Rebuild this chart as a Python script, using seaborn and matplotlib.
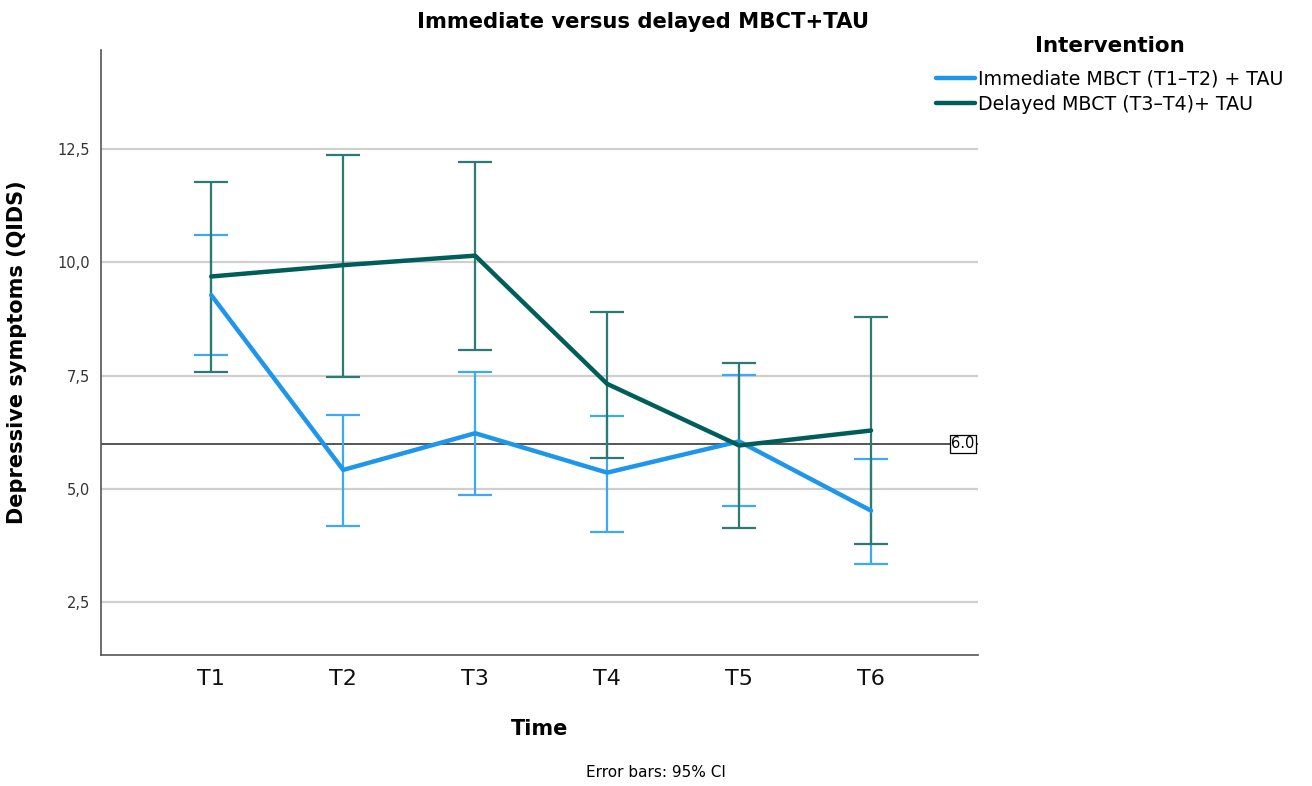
import numpy as np
import pandas as pd
import matplotlib
matplotlib.use("Agg")
import matplotlib.pyplot as plt
import seaborn as sns

# Measurement occasions
times = ["T1", "T2", "T3", "T4", "T5", "T6"]
groups = ["Immediate MBCT (T1\u2013T2) + TAU", "Delayed MBCT (T3\u2013T4)+ TAU"]

# Mean QIDS scores with 95% CI bounds per group
immediate_mean = [9.28, 5.42, 6.23, 5.36, 6.05, 4.52]
immediate_low = [7.96, 4.18, 4.87, 4.06, 4.63, 3.34]
immediate_high = [10.61, 6.63, 7.58, 6.61, 7.52, 5.66]

delayed_mean = [9.69, 9.94, 10.15, 7.32, 5.96, 6.29]
delayed_low = [7.59, 7.47, 8.06, 5.69, 4.13, 3.79]
delayed_high = [11.78, 12.38, 12.21, 8.91, 7.77, 8.80]

cutoff = 6.0

line_colors = ["#1E96EA", "#005E5A"]
bar_colors = ["#3DA8F4", "#2C7A76"]

rows = []
for g, m, lo, hi in [(groups[0], immediate_mean, immediate_low, immediate_high),
                     (groups[1], delayed_mean, delayed_low, delayed_high)]:
    for i, t in enumerate(times):
        rows.append({"pos": i, "Time": t, "Intervention": g,
                     "mean": m[i], "low": lo[i], "high": hi[i]})
df = pd.DataFrame(rows)

sns.set_theme(style="white")
plt.rcParams["font.family"] = ["DejaVu Sans"]
plt.rcParams["text.color"] = "black"
plt.rcParams["axes.labelcolor"] = "black"

fig = plt.figure(figsize=(13.12, 7.86), dpi=100)
ax = fig.add_axes([0.077, 0.1667, 0.6684, 0.7697])

# horizontal grid lines
for yv in [2.5, 5.0, 7.5, 10.0, 12.5]:
    ax.axhline(yv, color="#CFCFCF", lw=1.6, zorder=0)

# cut-off reference line
ax.axhline(cutoff, color="#555555", lw=1.4, zorder=1)

# confidence-interval bars
for g, bc in zip(groups, bar_colors):
    sub = df[df["Intervention"] == g]
    ax.errorbar(sub["pos"], sub["mean"],
                yerr=[sub["mean"] - sub["low"], sub["high"] - sub["mean"]],
                fmt="none", ecolor=bc, elinewidth=1.6, capsize=12.2,
                capthick=1.6, zorder=2)

sns.lineplot(data=df, x="pos", y="mean", hue="Intervention",
             hue_order=groups, palette=line_colors, linewidth=3.2,
             ax=ax, zorder=3, legend=True)

ax.set_xlim(-0.835, 5.81)
ax.set_ylim(1.335, 14.69)
ax.set_xticks(range(len(times)))
ax.set_xticklabels(times, fontsize=16, color="#111111")
ax.set_yticks([2.5, 5.0, 7.5, 10.0, 12.5])
ax.set_yticklabels([f"{v:.1f}".replace(".", ",") for v in [2.5, 5.0, 7.5, 10.0, 12.5]],
                   fontsize=10.5, color="#333333")
ax.tick_params(axis="both", length=0, pad=8)
ax.tick_params(axis="x", pad=10)

for s in ["top", "right"]:
    ax.spines[s].set_visible(False)
for s in ["left", "bottom"]:
    ax.spines[s].set_color("#555555")
    ax.spines[s].set_linewidth(1.2)

ax.set_xlabel("Time", fontsize=15, fontweight="bold", labelpad=22)
ax.set_ylabel("Depressive symptoms (QIDS)", fontsize=15, fontweight="bold", labelpad=22)
fig.text(0.49, 0.972, "Immediate versus delayed MBCT+TAU", ha="center", va="center",
         fontsize=15.2, fontweight="bold")

# label of the reference line
ax.text(5.785, cutoff, "6.0", ha="right", va="center", fontsize=10.5,
        bbox=dict(boxstyle="square,pad=0.1", facecolor="white", edgecolor="black", lw=0.9),
        zorder=4)

leg = ax.legend(title="Intervention", loc="upper left",
                bbox_to_anchor=(0.944, 1.036), frameon=False,
                fontsize=13.7, title_fontsize=15.5, handlelength=2.0,
                handletextpad=0.2, labelspacing=0.32, borderaxespad=0)
leg.get_title().set_fontweight("bold")
leg._legend_box.sep = 10
for h in leg.get_lines():
    h.set_linewidth(3.2)

fig.text(0.5, 0.008, "Error bars: 95% CI", ha="center", va="bottom", fontsize=11)

fig.savefig("out.png", dpi=100)
